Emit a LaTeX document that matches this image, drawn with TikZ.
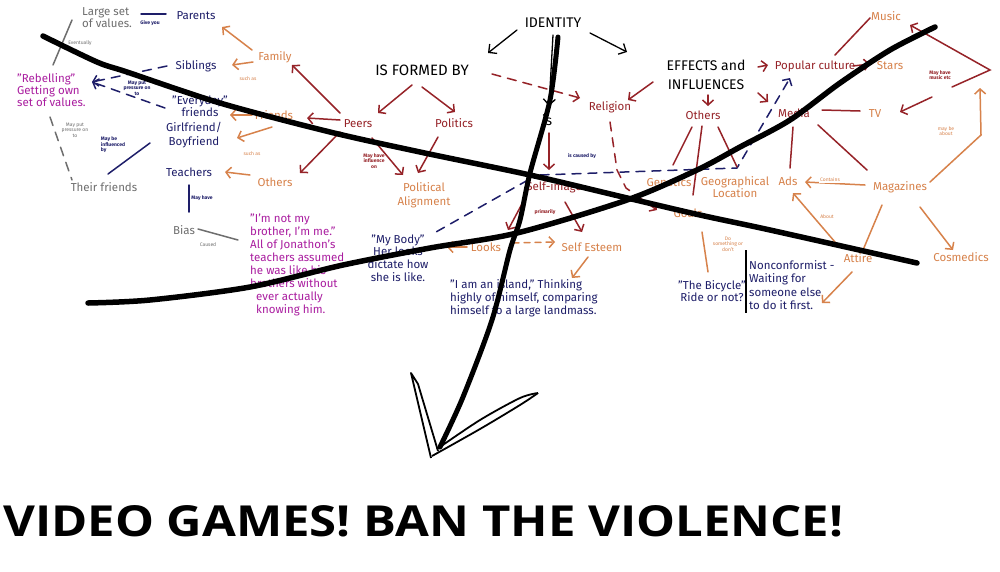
\documentclass[tikz,border=0pt]{standalone}
\usepackage{graphicx}
\usepackage{fontspec}
\setmainfont{Fira Sans}
\newfontfamily\bannerfont{Open Sans}
\usetikzlibrary{arrows.meta,calc}
\definecolor{dred}{RGB}{150,35,40}
\definecolor{orng}{RGB}{215,130,75}
\definecolor{navy}{RGB}{30,30,105}
\definecolor{mag}{RGB}{170,30,160}
\definecolor{gry}{RGB}{110,110,110}
\begin{document}
\begin{tikzpicture}[x=1pt,y=-1pt,
  lbl/.style={inner sep=0pt, font=\fontsize{11.5}{12}\selectfont, align=center},
  ttl/.style={inner sep=0pt, font=\fontsize{14}{19}\selectfont, align=center},
  sm/.style={inner sep=0pt, font=\fontsize{5}{5.5}\selectfont, align=center},
  smb/.style={inner sep=0pt, font=\fontsize{5}{5.5}\selectfont\bfseries, align=center},
  qt/.style={inner sep=0pt, font=\fontsize{11.5}{13}\selectfont, align=left, anchor=west},
  con/.style={line width=1.5pt, line cap=round},
  arr/.style={con, -{Straight Barb[length=5pt,width=11pt]}},
  dsh/.style={dash pattern=on 9pt off 7pt},
  thinarr/.style={line width=1.3pt, line cap=round, -{Straight Barb[length=6pt,width=12pt]}},
  big/.style={line width=5.5pt, line cap=round, line join=round, draw=black},
]
\useasboundingbox (0,0) rectangle (1000,571);
\fill[white] (0,0) rectangle (1000,571);

% ---------- main labels ----------
\node[lbl,gry,align=left,anchor=west] (large) at (82,18) {Large set\\of values.};
\node[lbl,gry] (theirfr) at (104,187) {Their friends};
\node[lbl,gry] (bias) at (184,230) {Bias};
\node[lbl,navy] (parents) at (196,16) {Parents};
\node[lbl,navy] (siblings) at (196,66) {Siblings};
\node[lbl,navy] (everyday) at (200,106) {"Everyday"\\friends};
\node[lbl,navy,font=\fontsize{11.5}{14}\selectfont] (girl) at (194,135) {Girlfriend/\\Boyfriend};
\node[lbl,navy] (teachers) at (189,172) {Teachers};
\node[lbl,mag,align=left,anchor=west] (rebel) at (17,90) {"Rebelling"\\Getting own\\set of values.};
\node[qt,mag] (jon) at (250,265) {"I'm not my\\brother, I'm me."\\All of Jonathon's\\teachers assumed\\he was like his\\brothers without\\\hspace*{6pt}ever actually\\\hspace*{6pt}knowing him.};
\node[lbl,orng] (family) at (275,57) {Family};
\node[lbl,orng] (friends) at (274,115) {Friends};
\node[lbl,orng] (others) at (275,182) {Others};
\node[lbl,orng,font=\fontsize{11.5}{14}\selectfont] (poltal) at (424,195) {Political\\Alignment};
\node[lbl,orng] (looks) at (486,247) {Looks};
\node[lbl,orng] (selfest) at (592,247) {Self Esteem};
\node[lbl,orng] (genetics) at (669,182) {Genetics};
\node[lbl,orng] (geo) at (735,187) {Geographical\\Location};
\node[lbl,orng] (goals) at (688,213) {Goals};
\node[lbl,orng] (stars) at (890,66) {Stars};
\node[lbl,orng] (music) at (886,16) {Music};
\node[lbl,orng] (tv) at (875,114) {TV};
\node[lbl,orng] (ads) at (788,181) {Ads};
\node[lbl,orng] (magazines) at (900,187) {Magazines};
\node[lbl,orng] (attire) at (858,258) {Attire};
\node[lbl,orng] (cosmedics) at (961,257) {Cosmedics};
\node[lbl,dred] (peers) at (358,124) {Peers};
\node[lbl,dred] (politics) at (454,123) {Politics};
\node[lbl,dred] (religion) at (610,107) {Religion};
\node[lbl,dred] (selfimage) at (554,187) {Self-image};
\node[lbl,dred] (othersr) at (703,115) {Others};
\node[lbl,dred] (popular) at (815,66) {Popular culture};
\node[lbl,dred] (media) at (794,113) {Media};
\node[ttl] (identity) at (553,23) {IDENTITY};
\node[ttl,font=\fontsize{15}{17}\selectfont] (formed) at (422,70) {IS FORMED BY};
\node[ttl] (effects) at (706,75) {EFFECTS and\\INFLUENCES};
\node[ttl] (is) at (547,120) {is};
\node[lbl,navy,font=\fontsize{11.5}{12.7}\selectfont] (body) at (398,258) {"My Body"\\Her looks\\dictate how\\she is like.};
\node[qt,navy] (island) at (450,298) {"I am an island," Thinking\\highly of himself, comparing\\himself to a large landmass.};
\node[lbl,navy] (bicycle) at (712,291) {"The Bicycle"\\Ride or not?};
\node[qt,navy,font=\fontsize{11.5}{13.3}\selectfont] (noncon) at (749,285) {Nonconformist -\\Waiting for\\someone else\\to do it first.};

% ---------- small labels ----------
\node[smb,navy] (giveyou) at (150,23) {Give you};
\node[sm,gry] (eventually) at (80,43) {Eventually};
\node[sm,orng] (suchas1) at (248,79) {such as};
\node[smb,navy] (mpp1) at (137,88) {May put\\pressure on\\to};
\node[sm,gry] (mpp2) at (75,130) {May put\\pressure on\\to};
\node[smb,navy,align=left] (mbi) at (113,145) {May be\\influenced\\by};
\node[sm,orng] (suchas2) at (252,154) {such as};
\node[smb,navy] (mayhave) at (202,198) {May have};
\node[sm,gry] (caused) at (208,245) {Caused};
\node[smb,dred] (mhi) at (374,161) {May have\\influence\\on};
\node[smb,navy] (iscaused) at (582,156) {is caused by};
\node[smb,dred] (primarily) at (545,212) {primarily};
\node[sm,orng] (dosth) at (728,244) {Do\\something or\\don't};
\node[smb,dred] (mhm) at (940,75) {May have\\music etc};
\node[sm,orng] (mba) at (946,131) {may be\\about};

\coordinate (rb) at (92,82);
\coordinate (bluebend) at (737,168);
\coordinate (orbend) at (981,135);
\coordinate (orend) at (980,88);
\coordinate (rg1) at (617,170);
\coordinate (rg2) at (626,188);
\coordinate (chtop) at (990,70);

% ---------- navy connectors ----------
\draw[con,navy] ($(large.west)+(59,-4)$) -- ($(parents)+(-30,-2)$);
\draw[arr,navy,dsh] ($(siblings)+(-29,0)$) -- (rb);
\draw[arr,navy,dsh] ($(everyday)+(-35,2)$) -- (rb);
\draw[con,navy] ($(theirfr)+(4,-13)$) -- ($(girl)+(-44,8)$);
\draw[con,navy] ($(teachers)+(0,13)$) -- ($(bias)+(5,-18)$);
\draw[con,navy,dsh] ($(selfimage)+(-26,-7)$) -- ($(body)+(38,-26)$);
\draw[arr,navy,dsh] ($(selfimage)+(-14,-12)$) -- (bluebend) -- ($(popular)+(-25,12)$);
% ---------- gray connectors ----------
\draw[con,gry] ($(large.west)+(-10,2)$) -- ($(rebel.west)+(36,-25)$);
\draw[con,gry,dsh] ($(rebel.west)+(33,27)$) -- ($(theirfr)+(-32,-7)$);
\draw[con,gry] ($(bias)+(14,-1)$) -- ($(jon.west)+(-12,-25)$);
% ---------- orange connectors ----------
\draw[arr,orng] ($(family)+(-23,-7)$) -- ($(parents)+(26,11)$);
\draw[arr,orng] ($(family)+(-22,5)$) -- ($(siblings)+(36,-1)$);
\draw[arr,orng] ($(friends)+(-22,0)$) -- ($(everyday)+(30,9)$);
\draw[arr,orng] ($(friends)+(-2,12)$) -- ($(girl)+(43,3)$);
\draw[arr,orng] ($(others)+(-25,-7)$) -- ($(teachers)+(36,0)$);
\draw[arr,orng] ($(looks)+(-19,0)$) -- ($(body)+(49,-11)$);
\draw[arr,orng,dash pattern=on 6pt off 5pt] ($(looks)+(27,-4)$) -- ($(selfest)+(-37,-5)$);
\draw[arr,orng] ($(selfest)+(-4,10)$) -- ($(island.west)+(122,-20)$);
\draw[con,orng] ($(goals)+(14,19)$) -- ($(bicycle)+(-4,-19)$);
\draw[arr,orng] ($(magazines)+(-35,-2)$) -- ($(ads)+(17,1)$);
\draw[arr,orng] ($(attire)+(-23,-16)$) -- ($(ads)+(5,12)$);
\draw[arr,orng] ($(attire)+(-6,14)$) -- ($(noncon.west)+(73,18)$);
\draw[con,orng] ($(magazines)+(-18,18)$) -- ($(attire)+(5,-8)$);
\draw[arr,orng] ($(magazines)+(20,20)$) -- ($(cosmedics)+(-8,-7)$);
\draw[arr,orng] ($(magazines)+(30,-5)$) -- (orbend) -- (orend);
% ---------- dark red connectors ----------
\draw[arr,dred] ($(formed)+(-10,15)$) -- ($(peers)+(20,-11)$);
\draw[arr,dred] ($(formed)+(0,17)$) -- ($(politics)+(1,-11)$);
\draw[arr,dred,dsh] ($(formed)+(70,4)$) -- ($(religion)+(-30,-9)$);
\draw[arr,dred] ($(peers)+(-18,-11)$) -- ($(family)+(17,8)$);
\draw[arr,dred] ($(peers)+(-18,-4)$) -- ($(friends)+(33,3)$);
\draw[arr,dred] ($(peers)+(-18,8)$) -- ($(others)+(25,-9)$);
\draw[arr,dred] ($(peers)+(14,14)$) -- ($(poltal)+(-21,-20)$);
\draw[arr,dred] ($(politics)+(-16,14)$) -- ($(poltal)+(-6,-22)$);
\draw[arr,dred] ($(effects)+(-53,7)$) -- ($(religion)+(18,-7)$);
\draw[arr,dred] ($(effects)+(2,20)$) -- ($(othersr)+(5,-9)$);
\draw[arr,dred] ($(effects)+(52,-8)$) -- ($(popular)+(-47,-1)$);
\draw[arr,dred] ($(effects)+(52,18)$) -- ($(media)+(-26,-11)$);
\draw[thinarr,black] ($(identity)+(0,12)$) -- ($(is)+(2,-14)$);
\draw[arr,dred] ($(is)+(2,13)$) -- ($(selfimage)+(-5,-17)$);
\draw[arr,dred,dsh] ($(religion)+(0,15)$) -- (rg1) -- (rg2) -- ($(goals)+(-31,-3)$);
\draw[arr,dred] ($(selfimage)+(-31,15)$) -- ($(looks)+(22,-17)$);
\draw[arr,dred] ($(selfimage)+(11,15)$) -- ($(selfest)+(-10,-15)$);
\draw[con,dred] ($(othersr)+(-11,12)$) -- ($(genetics)+(4,-17)$);
\draw[con,dred] ($(othersr)+(-1,11)$) -- ($(goals)+(5,-18)$);
\draw[con,dred] ($(othersr)+(15,12)$) -- ($(geo)+(2,-20)$);
\draw[arr,dred] ($(popular)+(38,0)$) -- ($(stars)+(-20,-2)$);
\draw[con,dred] ($(popular)+(20,-11)$) -- ($(music)+(-16,2)$);
\draw[con,dred] ($(media)+(28,-3)$) -- ($(tv)+(-15,-3)$);
\draw[con,dred] ($(media)+(24,12)$) -- ($(magazines)+(-33,-17)$);
\draw[con,dred] ($(media)+(-1,14)$) -- ($(ads)+(2,-13)$);
\draw[arr,dred] ($(mhm)+(12,12)$) -- (chtop) -- ($(music)+(24,9)$);
\draw[arr,dred] ($(mhm)+(-8,22)$) -- ($(tv)+(25,-2)$);
% ---------- black connectors ----------
\draw[thinarr,black] ($(identity)+(-36,7)$) -- ($(formed)+(66,-17)$);
\draw[thinarr,black] ($(identity)+(37,10)$) -- ($(effects)+(-79,-23)$);
\draw[line width=1.6pt,black] ($(noncon.west)+(-3,-35)$) -- ($(noncon.west)+(-3,28)$);

% labels breaking lines
\node[sm,orng,fill=white,inner sep=1.5pt] (contains) at (830,180) {Contains};
\node[sm,orng,fill=white,inner sep=1.5pt] (about) at (827,217) {About};

% ---------- big strokes ----------
\draw[big] plot[smooth,tension=0.5] coordinates {(43,36) (97,62) (127,72) (220,103) (330,132) (420,152) (530,175) (623,197) (700,215) (770,230) (917,263)};
\draw[big] plot[smooth,tension=0.5] coordinates {(88,303) (150,300) (250,287) (343,265) (430,248) (517,233) (627,200) (697,170) (740,147) (790,120) (840,83) (890,50) (935,27)};
\draw[big,line width=5pt] plot[smooth,tension=0.5] coordinates {(558,37) (550,100) (530,173) (520,220) (510,250) (492,320) (463,397) (440,447)};
\draw[black,line width=1.8pt,line join=round] (431,458) -- (411,373) -- (418,384) -- (438,451);
\draw[black,line width=1.8pt] plot[smooth] coordinates {(432,456) (480,429) (520,405) (538,393)};
\draw[black,line width=1.8pt] plot[smooth] coordinates {(437,449) (480,420) (520,398) (538,393)};

% ---------- banner ----------
\node[anchor=south west,inner sep=0pt] (banner) at (3,537) {\resizebox{840pt}{31pt}{\bannerfont\bfseries VIDEO GAMES! BAN THE VIOLENCE!}};
\end{tikzpicture}
\end{document}
